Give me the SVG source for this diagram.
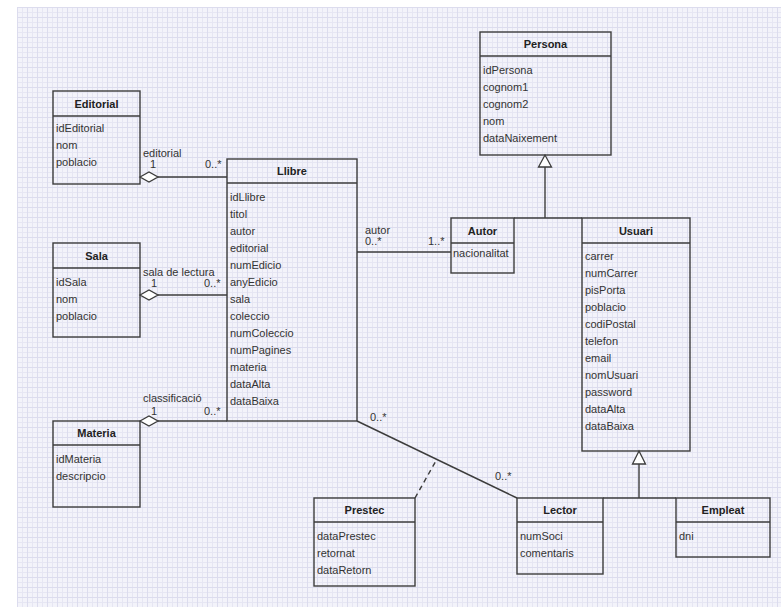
<svg xmlns="http://www.w3.org/2000/svg" width="781" height="607" viewBox="0 0 781 607">
<defs>
<pattern id="grid" x="17" y="7" width="10" height="10" patternUnits="userSpaceOnUse">
<rect width="10" height="10" fill="#f3f3fa"/>
<path d="M0 5.5H10M5.5 0V10" stroke="#e6e6f3" stroke-width="1" fill="none"/>
<path d="M0 0.5H10M0.5 0V10" stroke="#dcdcee" stroke-width="1" fill="none"/>
</pattern>
<style>
.box{fill:none;stroke:#3c3c3c;stroke-width:1.4}
.ln{fill:none;stroke:#3c3c3c;stroke-width:1.4}
.dash{fill:none;stroke:#3c3c3c;stroke-width:1.4;stroke-dasharray:5 4}
.dia{fill:#ffffff;stroke:#3c3c3c;stroke-width:1.3}
.tri{fill:#ffffff;stroke:#3c3c3c;stroke-width:1.3}
text{font-family:"Liberation Sans",Arial,sans-serif;font-size:11px;fill:#333333}
.t{font-weight:bold;text-anchor:middle;fill:#222222}
</style>
</defs>
<rect x="0" y="0" width="781" height="607" fill="#ffffff"/>
<rect x="17" y="7" width="764" height="600" fill="url(#grid)"/>

<g id="connectors">
<!-- Editorial - Llibre -->
<line class="ln" x1="158" y1="177" x2="227" y2="177"/>
<polygon class="dia" points="140,177 149,172 158,177 149,182"/>
<text x="143" y="157">editorial</text>
<text x="150" y="168">1</text>
<text x="205" y="168">0..*</text>
<!-- Sala - Llibre -->
<line class="ln" x1="158" y1="295" x2="227" y2="295"/>
<polygon class="dia" points="140,295 149,290 158,295 149,300"/>
<text x="143" y="276">sala de lectura</text>
<text x="151" y="287">1</text>
<text x="204" y="287">0..*</text>
<!-- Materia - Llibre -->
<line class="ln" x1="158" y1="421" x2="227" y2="421"/>
<polygon class="dia" points="140,421 149,416 158,421 149,426"/>
<text x="143" y="402">classificació</text>
<text x="151" y="415">1</text>
<text x="204" y="415">0..*</text>
<!-- Llibre - Autor -->
<line class="ln" x1="357" y1="252" x2="451" y2="252"/>
<text x="365" y="234">autor</text>
<text x="365" y="245">0..*</text>
<text x="428" y="245">1..*</text>
<!-- Llibre - Lector -->
<line class="ln" x1="357" y1="421" x2="517" y2="498"/>
<text x="370" y="421">0..*</text>
<text x="495" y="480">0..*</text>
<line class="dash" x1="415" y1="498" x2="437" y2="459"/>
<!-- Persona generalization -->
<line class="ln" x1="545" y1="167" x2="545" y2="218"/>
<line class="ln" x1="514" y1="218" x2="582" y2="218"/>
<polygon class="tri" points="545,155 538.5,167 551.5,167"/>
<!-- Usuari generalization -->
<line class="ln" x1="639" y1="464" x2="639" y2="498"/>
<line class="ln" x1="603" y1="498" x2="676" y2="498"/>
<polygon class="tri" points="639,451 632.5,464 645.5,464"/>
</g>

<g id="Editorial">
<rect class="box" x="53" y="91" width="87" height="93"/>
<line class="ln" x1="53" y1="116" x2="140" y2="116"/>
<text class="t" x="96.5" y="107.5">Editorial</text>
<text x="56" y="132">idEditorial</text>
<text x="56" y="149">nom</text>
<text x="56" y="166">poblacio</text>
</g>

<g id="Sala">
<rect class="box" x="53" y="243" width="87" height="94"/>
<line class="ln" x1="53" y1="268" x2="140" y2="268"/>
<text class="t" x="96.5" y="259.5">Sala</text>
<text x="56" y="285.5">idSala</text>
<text x="56" y="302.5">nom</text>
<text x="56" y="319.5">poblacio</text>
</g>

<g id="Materia">
<rect class="box" x="53" y="421" width="87" height="86"/>
<line class="ln" x1="53" y1="445" x2="140" y2="445"/>
<text class="t" x="96.5" y="437">Materia</text>
<text x="56" y="462.5">idMateria</text>
<text x="56" y="479.5">descripcio</text>
</g>

<g id="Llibre">
<rect class="box" x="227" y="159" width="130" height="262"/>
<line class="ln" x1="227" y1="183" x2="357" y2="183"/>
<text class="t" x="292" y="175">Llibre</text>
<text x="230" y="200.5">idLlibre</text>
<text x="230" y="217.5">titol</text>
<text x="230" y="234.5">autor</text>
<text x="230" y="251.5">editorial</text>
<text x="230" y="268.5">numEdicio</text>
<text x="230" y="285.5">anyEdicio</text>
<text x="230" y="302.5">sala</text>
<text x="230" y="319.5">coleccio</text>
<text x="230" y="336.5">numColeccio</text>
<text x="230" y="353.5">numPagines</text>
<text x="230" y="370.5">materia</text>
<text x="230" y="387.5">dataAlta</text>
<text x="230" y="404.5">dataBaixa</text>
</g>

<g id="Persona">
<rect class="box" x="480" y="32" width="131" height="123"/>
<line class="ln" x1="480" y1="56" x2="611" y2="56"/>
<text class="t" x="545.5" y="48">Persona</text>
<text x="483" y="73.5">idPersona</text>
<text x="483" y="90.5">cognom1</text>
<text x="483" y="107.5">cognom2</text>
<text x="483" y="124.5">nom</text>
<text x="483" y="141.5">dataNaixement</text>
</g>

<g id="Autor">
<rect class="box" x="451" y="218" width="63" height="55"/>
<line class="ln" x1="451" y1="243" x2="514" y2="243"/>
<text class="t" x="482.5" y="234.5">Autor</text>
<text x="453" y="257">nacionalitat</text>
</g>

<g id="Usuari">
<rect class="box" x="582" y="218" width="108" height="233"/>
<line class="ln" x1="582" y1="243" x2="690" y2="243"/>
<text class="t" x="636" y="234.5">Usuari</text>
<text x="585" y="260">carrer</text>
<text x="585" y="277">numCarrer</text>
<text x="585" y="294">pisPorta</text>
<text x="585" y="311">poblacio</text>
<text x="585" y="328">codiPostal</text>
<text x="585" y="345">telefon</text>
<text x="585" y="362">email</text>
<text x="585" y="379">nomUsuari</text>
<text x="585" y="396">password</text>
<text x="585" y="413">dataAlta</text>
<text x="585" y="430">dataBaixa</text>
</g>

<g id="Prestec">
<rect class="box" x="314" y="498" width="101" height="88"/>
<line class="ln" x1="314" y1="522" x2="415" y2="522"/>
<text class="t" x="364.5" y="514">Prestec</text>
<text x="317" y="539.5">dataPrestec</text>
<text x="317" y="556.5">retornat</text>
<text x="317" y="573.5">dataRetorn</text>
</g>

<g id="Lector">
<rect class="box" x="517" y="498" width="86" height="76"/>
<line class="ln" x1="517" y1="522" x2="603" y2="522"/>
<text class="t" x="560" y="514">Lector</text>
<text x="520" y="539.5">numSoci</text>
<text x="520" y="556.5">comentaris</text>
</g>

<g id="Empleat">
<rect class="box" x="676" y="498" width="94" height="59"/>
<line class="ln" x1="676" y1="522" x2="770" y2="522"/>
<text class="t" x="723" y="514">Empleat</text>
<text x="679" y="539.5">dni</text>
</g>
</svg>
